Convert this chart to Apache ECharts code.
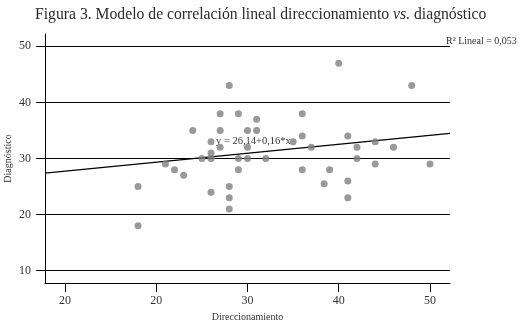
<!DOCTYPE html>
<html>
<head>
<meta charset="utf-8">
<script src="https://cdn.jsdelivr.net/npm/echarts@6/dist/echarts.min.js"></script>
<style>
html,body{margin:0;padding:0;background:#fff;}
#chart{width:522px;height:325px;}
</style>
</head>
<body>
<div id="chart"></div>
<script>
// Data
const direccionamiento = [18,18,21,22,23,24,25,26,26,26,26,27,27,27,28,28,28,28,29,29,29,30,30,30,31,31,32,35,36,36,36,37,38.4,39,40,41,41,41,42,42,44,44,46,48,50];
const diagnostico      = [25,18,29,28,27,35,30,30,31,33,24,38,35,32,43,25,23,21,38,30,28,35,32,30,37,35,30,33,38,34,28,32,25.5,28,47,34,26,23,32,30,33,29,32,43,29];
const fitX = [7.8, 52.2];
const fitY = [27.39, 34.49];
const xTickValues = [10, 20, 30, 40, 50];
const xTickLabels = ['20', '20', '30', '40', '50'];
const yTickValues = [10, 20, 30, 40, 50];
const yTickLabels = ['10', '20', '30', '40', '50'];
const axisRange = [7.8, 52.2];
const titleMain = 'Figura 3. Modelo de correlación lineal direccionamiento ';
const titleItalic = 'vs.';
const titleEnd = ' diagnóstico';
const r2Text = 'R² Lineal = 0,053';
const eqText = 'y = 26,14+0,16*x';

const FONT = '"Liberation Serif", "DejaVu Serif", serif';
const points = direccionamiento.map((x, i) => [x, diagnostico[i]]);
const fitLine = fitX.map((x, i) => [x, fitY[i]]);

const chart = echarts.init(document.getElementById('chart'), null, {renderer: 'canvas'});
chart.setOption({
  animation: false,
  backgroundColor: '#fff',
  title: {
    text: '{a|' + titleMain + '}{b|' + titleItalic + '}{a|' + titleEnd + '}',
    left: 30, top: 2,
    textStyle: {
      fontWeight: 'normal',
      rich: {
        a: {fontFamily: FONT, fontSize: 15.7, fontWeight: 'normal', color: '#2b2b2b'},
        b: {fontFamily: FONT, fontSize: 15.7, fontWeight: 'normal', color: '#2b2b2b', fontStyle: 'italic'}
      }
    }
  },
  grid: {left: 45, right: 72, top: 34, bottom: 42, containLabel: false, outerBoundsMode: 'none'},
  xAxis: {
    type: 'value', min: axisRange[0], max: axisRange[1],
    name: 'Direccionamiento', nameLocation: 'middle', nameGap: 29, nameMoveOverlap: false,
    nameTextStyle: {fontFamily: FONT, fontSize: 10, color: '#333'},
    axisLine: {show: true, onZero: false, lineStyle: {color: '#000', width: 1}},
    axisTick: {show: true, length: 9, customValues: xTickValues, lineStyle: {color: '#000'}},
    axisLabel: {
      customValues: xTickValues, margin: 12,
      fontFamily: FONT, fontSize: 12, color: '#333',
      formatter: v => { const i = xTickValues.indexOf(v); return i >= 0 ? xTickLabels[i] : ''; }
    },
    splitLine: {show: false}
  },
  yAxis: {
    type: 'value', min: axisRange[0], max: axisRange[1],
    name: 'Diagnóstico', nameLocation: 'middle', nameGap: 32, nameRotate: 90, nameMoveOverlap: false,
    nameTextStyle: {fontFamily: FONT, fontSize: 10, color: '#333'},
    axisLine: {show: true, onZero: false, lineStyle: {color: '#000', width: 1}},
    axisTick: {show: true, length: 9, customValues: yTickValues, lineStyle: {color: '#000'}},
    axisLabel: {
      customValues: yTickValues, margin: 14,
      fontFamily: FONT, fontSize: 12, color: '#333',
      formatter: v => { const i = yTickValues.indexOf(v); return i >= 0 ? yTickLabels[i] : ''; }
    },
    splitLine: {show: true, lineStyle: {color: '#000', width: 1}}
  },
  graphic: [
    {type: 'text', left: 446, top: 36, style: {text: r2Text, font: '10px ' + FONT, fill: '#333'}},
    {type: 'text', left: 216, top: 136, style: {text: eqText, font: '10.5px ' + FONT, fill: '#333'}}
  ],
  series: [
    {
      type: 'line', data: fitLine, showSymbol: false, symbol: 'none',
      lineStyle: {color: '#000', width: 1.2}, z: 3
    },
    {
      type: 'scatter', data: points, symbolSize: 7,
      itemStyle: {color: '#808080'}, z: 4
    }
  ]
});
</script>
</body>
</html>
